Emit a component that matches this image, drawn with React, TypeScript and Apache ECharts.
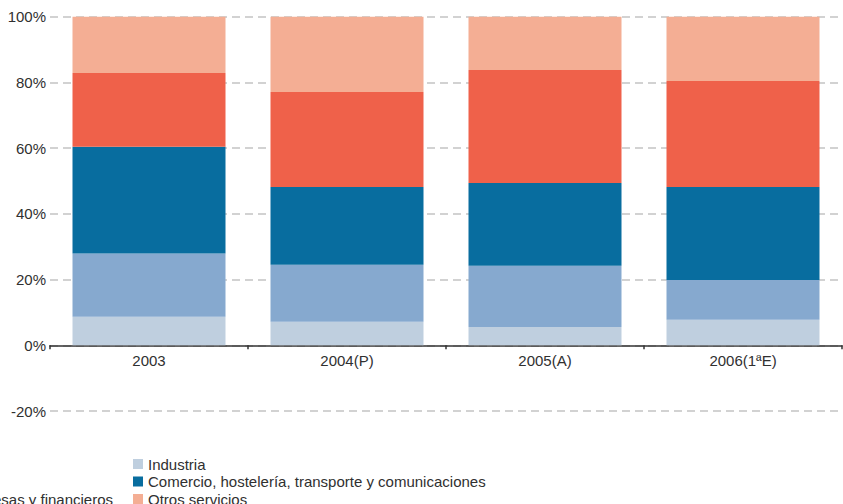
import React, { useEffect, useRef } from "react";
import * as echarts from "echarts";

const categories = ["2003", "2004(P)", "2005(A)", "2006(1ªE)"];
const industria = [8.7, 7.2, 5.6, 7.8];
const construccion = [19.2, 17.3, 18.6, 12.1];
const comercio = [32.5, 23.7, 25.2, 28.3];
const serviciosEmpresas = [22.5, 28.9, 34.4, 32.2];
const otrosServicios = [17.1, 22.9, 16.2, 19.6];

const yMin = -20;
const yMax = 100;
const yStep = 20;

const FONT = "'Liberation Sans', Arial, Helvetica, sans-serif";
const TEXT = "#303030";

export default function App() {
  const ref = useRef<HTMLDivElement>(null);
  useEffect(() => {
    if (!ref.current) return;
    const chart = echarts.init(ref.current, undefined, { renderer: "svg" });
    const mk = (name: string, data: number[], color: string) => ({
      name,
      type: "bar",
      stack: "total",
      data,
      barWidth: 153,
      itemStyle: { color },
      emphasis: { disabled: true },
    });
    const legendCommon = {
      orient: "vertical",
      itemWidth: 10,
      itemHeight: 10,
      itemGap: 0.5,
      icon: "rect",
      height: 120,
      itemStyle: { borderWidth: 0 },
      textStyle: { fontSize: 15, color: TEXT, fontFamily: FONT, lineHeight: 17 },
      padding: 0,
      selectedMode: false,
    };
    chart.setOption({
      animation: false,
      textStyle: { fontFamily: FONT },
      grid: { left: 50, right: 1, top: 16.7, bottom: 93, containLabel: false },
      legend: [
        {
          ...legendCommon,
          left: 133,
          top: 455.5,
          data: ["Industria", "Comercio, hostelería, transporte y comunicaciones", "Otros servicios"],
        },
        {
          ...legendCommon,
          right: 730,
          top: 473,
          data: ["Construcción", "Servicios a empresas y financieros"],
        },
      ],
      xAxis: {
        type: "category",
        data: categories,
        axisLine: { show: true, onZero: true, lineStyle: { color: "#333", width: 1.5 } },
        axisTick: { show: true, interval: 0, length: 4, lineStyle: { color: "#333", width: 1.5 } },
        axisLabel: { fontSize: 15, color: TEXT, margin: -58, fontFamily: FONT },
        splitLine: { show: false },
      },
      yAxis: {
        type: "value",
        min: yMin,
        max: yMax,
        interval: yStep,
        axisLine: { show: false },
        axisTick: { show: false },
        axisLabel: { fontSize: 15, color: TEXT, margin: 4, formatter: "{value}%", fontFamily: FONT },
        splitLine: { show: true, lineStyle: { color: "#d2d2d2", width: 2, type: [8, 5] } },
      },
      series: [
        mk("Industria", industria, "#bfcfdf"),
        mk("Construcción", construccion, "#86a9cf"),
        mk("Comercio, hostelería, transporte y comunicaciones", comercio, "#086d9f"),
        mk("Servicios a empresas y financieros", serviciosEmpresas, "#ef614a"),
        mk("Otros servicios", otrosServicios, "#f4ae94"),
      ],
    });
    return () => chart.dispose();
  }, []);
  return <div ref={ref} style={{ width: 843, height: 504, position: "absolute", left: 0, top: 0 }} />;
}
